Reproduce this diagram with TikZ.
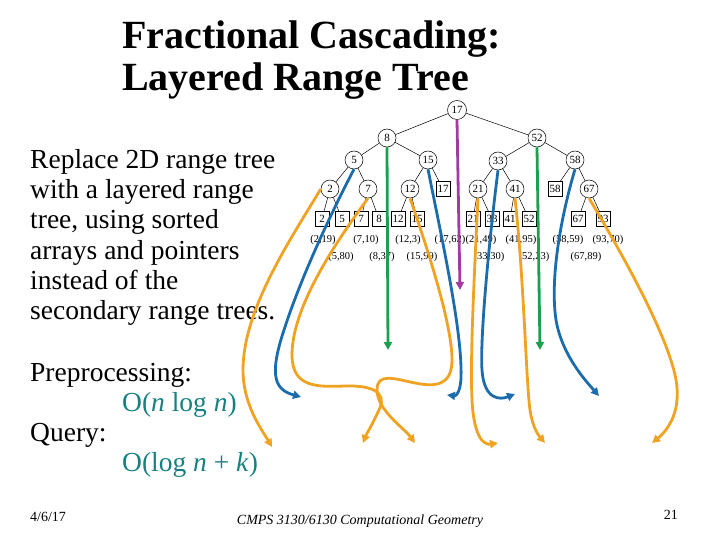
\documentclass[tikz,border=0pt]{standalone}
\usepackage{fontspec}
\setmainfont{Liberation Serif}
\usetikzlibrary{arrows.meta}
\definecolor{corange}{RGB}{240,163,35}
\definecolor{cblue}{RGB}{28,108,172}
\definecolor{cgreen}{RGB}{28,160,80}
\definecolor{cpurple}{RGB}{160,60,160}
\definecolor{cteal}{RGB}{25,128,128}
\tikzset{
  cnode/.style={draw, circle, line width=0.5pt, minimum size=18pt, inner sep=0pt, font=\fontsize{11}{11}\selectfont},
  bignode/.style={cnode, minimum size=19pt},
  snode/.style={draw, rectangle, line width=0.6pt, minimum width=14pt, minimum height=15pt, inner sep=0pt, font=\fontsize{11}{11}\selectfont},
  edge/.style={line width=0.5pt},
  ptlab/.style={font=\fontsize{10.5}{10.5}\selectfont, inner sep=0pt},
  ptr/.style={line width=2.8pt, -{Triangle[length=8pt,width=8pt]}},
  bodytext/.style={anchor=base west, inner sep=0pt, font=\fontsize{27.5}{30}\selectfont},
  titletext/.style={anchor=base west, inner sep=0pt, font=\fontsize{40}{44}\selectfont\bfseries},
  foot/.style={inner sep=0pt, font=\fontsize{14}{14}\selectfont},
}
\begin{document}
\begin{tikzpicture}[x=1pt,y=-1pt]
\useasboundingbox (0,0) rectangle (720,540);
% title
\node[titletext] (t1) at (122,49) {Fractional Cascading:};
\node[titletext] (t2) at (122,91) {Layered Range Tree};
% body
\node[bodytext] (b1) at (30,169) {Replace 2D range tree};
\node[bodytext] (b2) at (30,199) {with a layered range};
\node[bodytext] (b3) at (30,229) {tree, using sorted};
\node[bodytext] (b4) at (30,259) {arrays and pointers};
\node[bodytext] (b5) at (30,289) {instead of the};
\node[bodytext] (b6) at (30,319) {secondary range trees.};
\node[bodytext] (p1) at (30,381) {Preprocessing:};
\node[bodytext, text=cteal] (p2) at (122,411) {O(\textit{n} log \textit{n})};
\node[bodytext] (q1) at (30,441) {Query:};
\node[bodytext, text=cteal] (q2) at (122,471) {O(log \textit{n} + \textit{k})};
% footer
\node[foot, anchor=west] (f1) at (30,517) {4/6/17};
\node[foot] (f2) at (360,521) {\itshape CMPS 3130/6130 Computational Geometry};
\node[foot, anchor=east] (f3) at (678,515) {21};
% tree
\node[bignode] (n17) at (457,110) {17};
\node[cnode] (n8) at (387,138) {8};
\node[cnode] (n52) at (537,138) {52};
\node[cnode] (n5) at (354,160) {5};
\node[cnode] (n15) at (428,160) {15};
\node[cnode] (n33) at (498,161) {33};
\node[cnode] (n58) at (575,160) {58};
\node[cnode] (n2) at (330,189) {2};
\node[cnode] (n7) at (368,189) {7};
\node[cnode] (n12) at (410,189) {12};
\node[snode] (s17) at (443,189) {17};
\node[cnode] (n21) at (478,189) {21};
\node[cnode] (n41) at (515,189) {41};
\node[snode] (s58) at (555,189) {58};
\node[cnode] (n67) at (589,189) {67};
\node[snode] (l2) at (322,219) {2};
\node[snode] (l5) at (342,219) {5};
\node[snode] (l7) at (361,219) {7};
\node[snode] (l8) at (379,219) {8};
\node[snode] (l12) at (398,219) {12};
\node[snode] (l15) at (417,219) {15};
\node[snode] (l21) at (473,219) {21};
\node[snode] (l33) at (492,219) {33};
\node[snode] (l41) at (510,219) {41};
\node[snode] (l52) at (529,219) {52};
\node[snode] (l67) at (578,219) {67};
\node[snode] (l93) at (603,219) {93};
\draw[edge] (n17) -- (n8); \draw[edge] (n17) -- (n52);
\draw[edge] (n8) -- (n5); \draw[edge] (n8) -- (n15);
\draw[edge] (n52) -- (n33); \draw[edge] (n52) -- (n58);
\draw[edge] (n5) -- (n2); \draw[edge] (n5) -- (n7);
\draw[edge] (n15) -- (n12); \draw[edge] (n15) -- (s17);
\draw[edge] (n33) -- (n21); \draw[edge] (n33) -- (n41);
\draw[edge] (n58) -- (s58); \draw[edge] (n58) -- (n67);
\draw[edge] (n2) -- (l2); \draw[edge] (n2) -- (l5);
\draw[edge] (n7) -- (l7); \draw[edge] (n7) -- (l8);
\draw[edge] (n12) -- (l12); \draw[edge] (n12) -- (l15);
\draw[edge] (n21) -- (l21); \draw[edge] (n21) -- (l33);
\draw[edge] (n41) -- (l41); \draw[edge] (n41) -- (l52);
\draw[edge] (n67) -- (l67); \draw[edge] (n67) -- (l93);
% points
\node[ptlab] (a1) at (323,240) {(2,19)};
\node[ptlab] (a2) at (366,240) {(7,10)};
\node[ptlab] (a3) at (408,240) {(12,3)};
\node[ptlab] (a4) at (450,240) {(17,62)};
\node[ptlab] (a5) at (481,240) {(21,49)};
\node[ptlab] (a6) at (521,240) {(41,95)};
\node[ptlab] (a7) at (568,240) {(58,59)};
\node[ptlab] (a8) at (608,240) {(93,70)};
\node[ptlab] (c1) at (341,257) {(5,80)};
\node[ptlab] (c2) at (382,257) {(8,37)};
\node[ptlab] (c3) at (422,257) {(15,99)};
\node[ptlab] (c4) at (489,257) {(33,30)};
\node[ptlab] (c5) at (534,257) {(52,23)};
\node[ptlab] (c6) at (586,257) {(67,89)};
% pointer end points
\coordinate (e17) at (460,290);
\coordinate (e8) at (388,350);
\coordinate (e52) at (540,350);
\coordinate (e5) at (301,397);
\coordinate (e2) at (272,447);
\coordinate (e7) at (363,443);
\coordinate (e12) at (415,443);
\coordinate (e15) at (447,395);
\coordinate (e21) at (498,443);
\coordinate (e33) at (515,394);
\coordinate (e41) at (545,443);
\coordinate (e58) at (599,396);
\coordinate (e67) at (652,443);
% pointers
\draw[ptr, cpurple] (n17.south) -- (e17);
\draw[ptr, cgreen] (n8.south) -- (e8);
\draw[ptr, cgreen] (n52.south) -- (e52);
\draw[ptr, cblue] (n5.south) .. controls (330,215) and (300,280) .. (284,330) .. controls (268,378) and (276,390) .. (e5);
\draw[ptr, corange] (n2.west) .. controls (290,240) and (243,310) .. (243,370) .. controls (243,405) and (262,430) .. (e2);
\draw[ptr, corange] (n7.south) .. controls (330,250) and (292,310) .. (292,355) .. controls (292,388) and (318,387) .. (345,386) .. controls (382,385) and (386,398) .. (378,412) .. controls (372,425) and (366,435) .. (e7);
\draw[ptr, corange] (n12.south) .. controls (435,270) and (452,330) .. (452,360) .. controls (452,386) and (435,387) .. (415,383) .. controls (395,379) and (377,372) .. (377,390) .. controls (377,410) and (404,428) .. (e12);
\draw[ptr, cblue] (n15.south) .. controls (440,230) and (460,320) .. (461,368) .. controls (462,392) and (456,396) .. (e15);
\draw[ptr, corange] (n21.south) .. controls (474,280) and (470,360) .. (472,400) .. controls (474,440) and (485,445) .. (e21);
\draw[ptr, cblue] (n33.south) .. controls (488,250) and (480,340) .. (482,370) .. controls (484,400) and (500,400) .. (e33);
\draw[ptr, corange] (n41.south) .. controls (524,280) and (526,380) .. (530,410) .. controls (533,430) and (540,437) .. (e41);
\draw[ptr, cblue] (n58.south) .. controls (560,220) and (550,280) .. (556,320) .. controls (562,355) and (585,380) .. (e58);
\draw[ptr, corange] (n67.south) .. controls (620,250) and (665,330) .. (675,375) .. controls (683,410) and (668,430) .. (e67);
\end{tikzpicture}
\end{document}
